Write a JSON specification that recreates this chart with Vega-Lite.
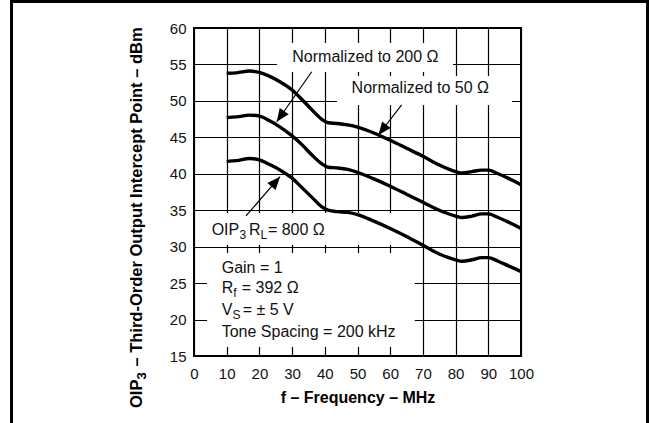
{
  "$schema": "https://vega.github.io/schema/vega-lite/v6.json",
  "width": 327,
  "height": 328,
  "autosize": {"type": "none"},
  "padding": {"left": 194, "top": 28, "right": 128, "bottom": 67},
  "background": "white",
  "datasets": {
    "curves": [
      {"series": "50", "f": 10, "v": 53.8}, {"series": "50", "f": 13, "v": 53.85}, {"series": "50", "f": 17, "v": 54.1}, {"series": "50", "f": 20, "v": 53.9}, {"series": "50", "f": 23, "v": 53.4}, {"series": "50", "f": 26, "v": 52.7}, {"series": "50", "f": 30, "v": 51.5}, {"series": "50", "f": 33, "v": 50.2}, {"series": "50", "f": 36, "v": 48.8}, {"series": "50", "f": 39, "v": 47.5}, {"series": "50", "f": 41, "v": 47.0}, {"series": "50", "f": 44, "v": 46.9}, {"series": "50", "f": 47, "v": 46.7}, {"series": "50", "f": 50, "v": 46.4}, {"series": "50", "f": 55, "v": 45.6}, {"series": "50", "f": 60, "v": 44.6}, {"series": "50", "f": 65, "v": 43.5}, {"series": "50", "f": 70, "v": 42.4}, {"series": "50", "f": 75, "v": 41.2}, {"series": "50", "f": 80, "v": 40.3}, {"series": "50", "f": 82, "v": 40.1}, {"series": "50", "f": 85, "v": 40.3}, {"series": "50", "f": 88, "v": 40.5}, {"series": "50", "f": 90, "v": 40.5}, {"series": "50", "f": 93, "v": 40.0}, {"series": "50", "f": 96, "v": 39.4}, {"series": "50", "f": 100, "v": 38.5},
      {"series": "200", "f": 10, "v": 47.7}, {"series": "200", "f": 13, "v": 47.8}, {"series": "200", "f": 17, "v": 48.05}, {"series": "200", "f": 20, "v": 47.9}, {"series": "200", "f": 23, "v": 47.3}, {"series": "200", "f": 26, "v": 46.5}, {"series": "200", "f": 30, "v": 45.2}, {"series": "200", "f": 33, "v": 44.0}, {"series": "200", "f": 36, "v": 42.6}, {"series": "200", "f": 39, "v": 41.4}, {"series": "200", "f": 41, "v": 40.9}, {"series": "200", "f": 44, "v": 40.8}, {"series": "200", "f": 47, "v": 40.6}, {"series": "200", "f": 50, "v": 40.2}, {"series": "200", "f": 55, "v": 39.3}, {"series": "200", "f": 60, "v": 38.3}, {"series": "200", "f": 65, "v": 37.2}, {"series": "200", "f": 70, "v": 36.1}, {"series": "200", "f": 75, "v": 35.0}, {"series": "200", "f": 80, "v": 34.2}, {"series": "200", "f": 82, "v": 34.0}, {"series": "200", "f": 85, "v": 34.2}, {"series": "200", "f": 88, "v": 34.5}, {"series": "200", "f": 90, "v": 34.5}, {"series": "200", "f": 93, "v": 34.0}, {"series": "200", "f": 96, "v": 33.4}, {"series": "200", "f": 100, "v": 32.5},
      {"series": "800", "f": 10, "v": 41.7}, {"series": "800", "f": 13, "v": 41.8}, {"series": "800", "f": 17, "v": 42.1}, {"series": "800", "f": 20, "v": 41.9}, {"series": "800", "f": 23, "v": 41.3}, {"series": "800", "f": 26, "v": 40.6}, {"series": "800", "f": 30, "v": 39.4}, {"series": "800", "f": 33, "v": 38.1}, {"series": "800", "f": 36, "v": 36.8}, {"series": "800", "f": 39, "v": 35.5}, {"series": "800", "f": 41, "v": 35.0}, {"series": "800", "f": 44, "v": 34.8}, {"series": "800", "f": 47, "v": 34.7}, {"series": "800", "f": 50, "v": 34.4}, {"series": "800", "f": 55, "v": 33.5}, {"series": "800", "f": 60, "v": 32.5}, {"series": "800", "f": 65, "v": 31.4}, {"series": "800", "f": 70, "v": 30.2}, {"series": "800", "f": 75, "v": 29.0}, {"series": "800", "f": 80, "v": 28.2}, {"series": "800", "f": 82, "v": 28.0}, {"series": "800", "f": 85, "v": 28.2}, {"series": "800", "f": 88, "v": 28.5}, {"series": "800", "f": 90, "v": 28.5}, {"series": "800", "f": 93, "v": 28.0}, {"series": "800", "f": 96, "v": 27.4}, {"series": "800", "f": 100, "v": 26.6}
    ],
    "frame": [{"f": -55.8, "f2": 138.7, "v": 63.64, "v2": 5.4}],
    "boxes": [
      {"f": 25.4, "f2": 79.2, "v": 57.94, "v2": 53.96},
      {"f": 43.7, "f2": 97.25, "v": 53.41, "v2": 49.44},
      {"f": 3.4, "f2": 67.5, "v": 34.62, "v2": 30.23},
      {"f": 4.0, "f2": 67.5, "v": 29.13, "v2": 16.23}
    ],
    "arrows": [
      {"id": "a200", "f": 36.0, "v": 54.0, "f2": 25.3, "v2": 47.14},
      {"id": "a50", "f": 63.5, "v": 49.44, "f2": 56.4, "v2": 45.32},
      {"id": "a800", "f": 15.9, "v": 34.21, "f2": 26.3, "v2": 39.6}
    ],
    "heads": [
      {"id": "a200", "f": 25.3, "v": 47.14},
      {"id": "a50", "f": 56.4, "v": 45.32},
      {"id": "a800", "f": 26.3, "v": 39.6}
    ],
    "labels": [
      {"text": "Normalized to 200 Ω", "f": 30.06, "v": 55.38},
      {"text": "Normalized to 50 Ω", "f": 48.2, "v": 51.04},
      {"text": "OIP", "f": 5.4, "v": 31.6},
      {"text": "R", "f": 16.8, "v": 31.6},
      {"text": "= 800 Ω", "f": 22.6, "v": 31.6},
      {"text": "Gain = 1", "f": 8.47, "v": 26.35},
      {"text": "R", "f": 8.47, "v": 23.6},
      {"text": "= 392 Ω", "f": 14.6, "v": 23.6},
      {"text": "V", "f": 8.47, "v": 20.62},
      {"text": "= ± 5 V", "f": 14.9, "v": 20.62},
      {"text": "Tone Spacing = 200 kHz", "f": 8.47, "v": 17.65}
    ],
    "subs": [
      {"text": "3", "f": 13.9, "v": 31.6},
      {"text": "L", "f": 20.35, "v": 31.6},
      {"text": "f", "f": 12.02, "v": 23.6},
      {"text": "S", "f": 11.74, "v": 20.62}
    ],
    "ytitle": [
      {"text": "OIP", "f": -15.9, "v": 7.87},
      {"text": "– Third-Order Output Intercept Point – dBm", "f": -15.9, "v": 13.55}
    ],
    "ytitlesub": [
      {"text": "3", "f": -15.9, "v": 11.76}
    ]
  },
  "encoding": {
    "x": {
      "field": "f", "type": "quantitative",
      "scale": {"domain": [0, 100], "nice": false, "zero": false},
      "axis": {"title": "f – Frequency – MHz", "values": [0, 10, 20, 30, 40, 50, 60, 70, 80, 90, 100]}
    },
    "y": {
      "field": "v", "type": "quantitative",
      "scale": {"domain": [15, 60], "nice": false, "zero": false},
      "axis": {"title": null, "values": [15, 20, 25, 30, 35, 40, 45, 50, 55, 60]}
    }
  },
  "layer": [
    {
      "data": {"name": "frame"},
      "mark": {"type": "rect", "fillOpacity": 0, "stroke": "black", "strokeWidth": 3, "clip": false},
      "encoding": {"x2": {"field": "f2"}, "y2": {"field": "v2"}}
    },
    {
      "data": {"name": "boxes"},
      "mark": {"type": "rect", "fill": "white", "strokeWidth": 0},
      "encoding": {"x2": {"field": "f2"}, "y2": {"field": "v2"}}
    },
    {
      "data": {"name": "curves"},
      "mark": {"type": "line", "color": "black", "strokeWidth": 3.4, "interpolate": "monotone", "strokeCap": "butt"},
      "encoding": {"detail": {"field": "series"}}
    },
    {
      "data": {"name": "arrows"},
      "mark": {"type": "rule", "color": "black", "strokeWidth": 1.2},
      "encoding": {"x2": {"field": "f2"}, "y2": {"field": "v2"}}
    },
    {
      "data": {"name": "heads"},
      "transform": [{"filter": "datum.id == 'a200'"}],
      "mark": {"type": "point", "shape": "M0,0L0.42,1L-0.42,1Z", "filled": true, "size": 676, "angle": 215, "color": "black", "opacity": 1, "strokeWidth": 0}
    },
    {
      "data": {"name": "heads"},
      "transform": [{"filter": "datum.id == 'a50'"}],
      "mark": {"type": "point", "shape": "M0,0L0.42,1L-0.42,1Z", "filled": true, "size": 676, "angle": 218, "color": "black", "opacity": 1, "strokeWidth": 0}
    },
    {
      "data": {"name": "heads"},
      "transform": [{"filter": "datum.id == 'a800'"}],
      "mark": {"type": "point", "shape": "M0,0L0.42,1L-0.42,1Z", "filled": true, "size": 676, "angle": 41, "color": "black", "opacity": 1, "strokeWidth": 0}
    },
    {
      "data": {"name": "labels"},
      "mark": {"type": "text", "align": "left", "baseline": "alphabetic", "font": "Liberation Sans", "fontSize": 16, "color": "#111"},
      "encoding": {"text": {"field": "text"}}
    },
    {
      "data": {"name": "subs"},
      "mark": {"type": "text", "align": "left", "baseline": "alphabetic", "font": "Liberation Sans", "fontSize": 12, "dy": 4, "color": "#111"},
      "encoding": {"text": {"field": "text"}}
    },
    {
      "data": {"name": "ytitle"},
      "mark": {"type": "text", "align": "left", "baseline": "alphabetic", "angle": 270, "font": "Liberation Sans", "fontSize": 16.5, "fontWeight": "bold", "color": "black"},
      "encoding": {"text": {"field": "text"}}
    },
    {
      "data": {"name": "ytitlesub"},
      "mark": {"type": "text", "align": "left", "baseline": "alphabetic", "angle": 270, "font": "Liberation Sans", "fontSize": 13, "fontWeight": "bold", "dy": 4, "color": "black"},
      "encoding": {"text": {"field": "text"}}
    }
  ],
  "config": {
    "view": {"stroke": "black", "strokeWidth": 2, "fill": "white"},
    "axis": {
      "grid": true, "gridColor": "black", "gridWidth": 1.2, "gridOpacity": 1,
      "domain": false, "ticks": false, "tickSize": 0,
      "labelFont": "Liberation Sans", "labelFontSize": 15, "labelColor": "#111",
      "labelFlush": false, "labelOverlap": false,
      "titleFont": "Liberation Sans", "titleFontSize": 16, "titleFontWeight": "bold", "titleColor": "black"
    },
    "axisX": {"labelPadding": 22, "labelBaseline": "alphabetic", "titleY": 46, "titleBaseline": "alphabetic"},
    "axisY": {"labelPadding": 8}
  }
}
